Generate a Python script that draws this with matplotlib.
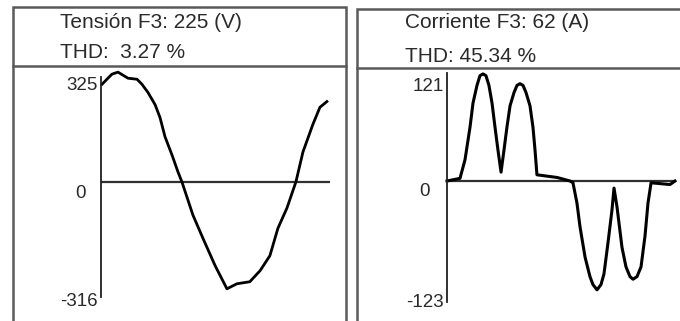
import matplotlib
matplotlib.use("Agg")
import matplotlib.pyplot as plt
import matplotlib.transforms as mtransforms

# ---------------- data ----------------
titles = ["Tensión F3: 225 (V)", "Corriente F3: 62 (A)"]
thd_labels = ["THD:  3.27 %", "THD: 45.34 %"]

volt_t = [0.09, 0.52, 0.96, 1.48, 1.92, 2.36, 3.14, 3.58, 4.10, 4.72, 5.15, 5.59,
          6.20, 6.72, 7.07, 8.03, 8.91, 9.96, 11.0, 11.87, 13.0, 13.9, 14.75,
          15.45, 16.24, 17.02, 17.64, 18.5, 19.12, 19.73]
volt_v = [289, 304, 319, 325, 316, 307, 304, 289, 265, 229, 191, 134,
          80, 30, 0, -98, -167, -247, -316, -301, -295, -262, -218,
          -137, -77, 0, 89, 170, 221, 238]

curr_t = [0.0, 1.14, 1.58, 2.02, 2.28, 2.63, 2.89, 3.16, 3.42, 3.68, 3.95, 4.21,
          4.47, 4.74, 5.00, 5.26, 5.53, 5.88, 6.14, 6.40, 6.67, 6.93, 7.28,
          7.54, 7.72, 7.89, 9.65, 10.79, 11.05, 11.40, 11.67, 12.11, 12.54,
          12.80, 13.16, 13.51, 13.77, 14.12, 14.47, 14.65, 14.91, 15.35, 15.70,
          16.05, 16.32, 16.67, 17.02, 17.37, 17.63, 17.90, 19.56, 20.0]
curr_v = [0, 3, 24, 61, 88, 108, 119, 121, 119, 108, 88, 61,
          35, 10, 35, 61, 85, 100, 108, 110, 108, 100, 85,
          61, 35, 7, 4, 0, -2, -25, -52, -86, -108,
          -117, -123, -117, -105, -70, -33, -8, -29, -75, -97,
          -108, -111, -108, -97, -62, -25, -2, -4, 0]

volt_ticks = [325, 0, -316]
curr_ticks = [121, 0, -123]

W, H = 680, 321
fig = plt.figure(figsize=(W / 100, H / 100), dpi=100)
fig.patch.set_facecolor("white")

FONT = "Liberation Sans"
TXT = "#2a2a2a"
BORDER = "#5a5a5a"

# overlay in pixel coordinates for frames and headers
ov = fig.add_axes([0, 0, 1, 1])
ov.set_xlim(0, W)
ov.set_ylim(H, 0)
ov.axis("off")

# left panel frame
ov.plot([13, 13, 346, 346], [H + 2, 7, 7, H + 2], color=BORDER, lw=1.8, solid_joinstyle="miter")
ov.plot([13, 346], [66, 66], color=BORDER, lw=1.8)
# right panel frame
ov.plot([357, 357, W + 2], [H + 2, 9, 9], color=BORDER, lw=1.8, solid_joinstyle="miter")
ov.plot([357, W + 2], [68, 68], color=BORDER, lw=1.8)

HFS = 15
ov.text(60, 22, titles[0], fontsize=HFS, family=FONT, color=TXT, va="center", ha="left")
ov.text(60, 53, thd_labels[0], fontsize=HFS, family=FONT, color=TXT, va="center", ha="left")
ov.text(405, 23, titles[1], fontsize=HFS, family=FONT, color=TXT, va="center", ha="left")
ov.text(405, 56, thd_labels[1], fontsize=HFS, family=FONT, color=TXT, va="center", ha="left")


def make_axes(x0, x1, ytop, ybot, yzero, units_per_px):
    ax = fig.add_axes([x0 / W, (H - ybot) / H, (x1 - x0) / W, (ybot - ytop) / H])
    ax.set_xlim(0, 20)
    ax.set_ylim(-(ybot - yzero) * units_per_px, (yzero - ytop) * units_per_px)
    ax.patch.set_alpha(0)
    for s in ["top", "right", "bottom"]:
        ax.spines[s].set_visible(False)
    ax.spines["left"].set_color("#202020")
    ax.spines["left"].set_linewidth(1.3)
    ax.set_xticks([])
    ax.set_yticks([])
    ax.axhline(0, color="#303030", lw=1.6)
    return ax


axL = make_axes(101, 330, 77, 297, 182, 2.958)
axL.plot(volt_t, volt_v, color="black", lw=2.0, clip_on=False)

axR = make_axes(447, 675, 73, 302, 181, 1.13)
axR.plot(curr_t, curr_v, color="black", lw=2.2, clip_on=False)


def tick_labels(ax, ticks, zero_dx):
    for v in ticks:
        if v == 0:
            tr = mtransforms.offset_copy(ax.get_yaxis_transform(), fig=fig,
                                         x=-zero_dx / 100, y=-11 / 100, units="inches")
            ax.text(0, v, str(v), transform=tr, ha="center", va="center",
                    fontsize=13.5, family=FONT, color=TXT)
        else:
            tr = mtransforms.offset_copy(ax.get_yaxis_transform(), fig=fig,
                                         x=-3 / 100, y=-13 / 100, units="inches")
            ax.text(0, v, str(v), transform=tr, ha="right", va="center",
                    fontsize=13.5, family=FONT, color=TXT)


tick_labels(axL, volt_ticks, 21)
tick_labels(axR, curr_ticks, 22)

fig.savefig("out.png", dpi=100, facecolor="white")
